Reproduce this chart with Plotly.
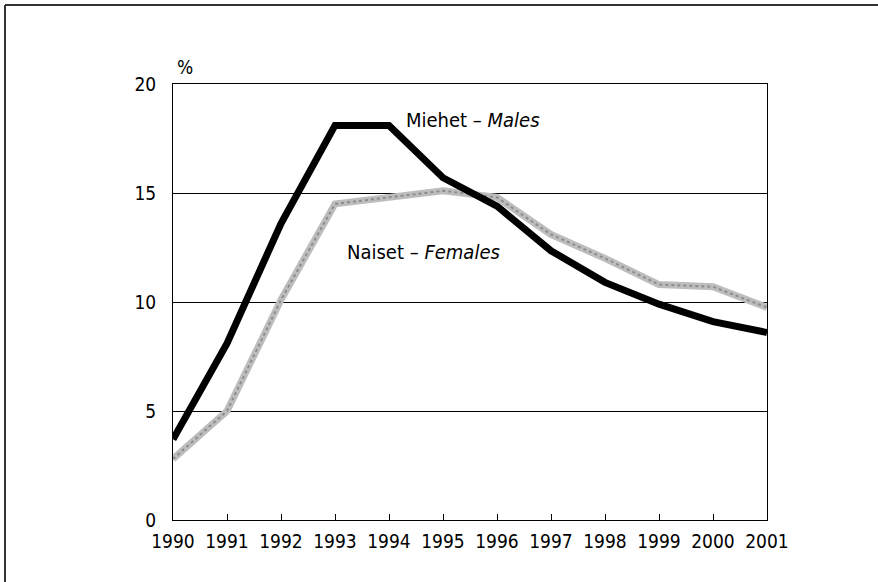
import plotly.graph_objects as go

years = [1990, 1991, 1992, 1993, 1994, 1995, 1996, 1997, 1998, 1999, 2000, 2001]
males = [3.7, 8.1, 13.6, 18.1, 18.1, 15.7, 14.4, 12.35, 10.9, 9.9, 9.1, 8.6]
females = [2.8, 5.0, 10.1, 14.5, 14.8, 15.1, 14.8, 13.1, 12.0, 10.8, 10.7, 9.75]
y_ticks = [0, 5, 10, 15, 20]

FONT = "Liberation Sans Narrow, DejaVu Sans Condensed, sans-serif"

W, H = 878, 582
L, R, T, B = 173, 111, 84, 62
pw, ph = W - L - R, H - T - B

def px_x(px):
    return (px - L) / pw

def px_y(py):
    return (H - B - py) / ph

fig = go.Figure()
fig.add_trace(go.Scatter(x=years, y=females, mode="lines",
                         line=dict(color="#bdbdbd", width=7), hoverinfo="skip"))
fig.add_trace(go.Scatter(x=years, y=females, mode="lines",
                         line=dict(color="#8c8c8c", width=2, dash="dot"), hoverinfo="skip"))
fig.add_trace(go.Scatter(x=years, y=males, mode="lines",
                         line=dict(color="#000000", width=7), hoverinfo="skip"))

fig.update_layout(
    width=W, height=H,
    margin=dict(l=L, r=R, t=T, b=B),
    paper_bgcolor="white", plot_bgcolor="white",
    showlegend=False,
    font=dict(family=FONT, size=19, color="black"),
    xaxis=dict(range=[1990, 2001], tickmode="array", tickvals=years,
               ticktext=[str(y) for y in years],
               ticks="inside", ticklen=6, tickcolor="black", tickwidth=1,
               showgrid=False, showline=True, linecolor="black", linewidth=1,
               mirror=True, zeroline=False, tickfont=dict(size=19),
               ticklabelstandoff=4),
    yaxis=dict(range=[0, 20], tickmode="array", tickvals=y_ticks,
               ticks="", showgrid=True, gridcolor="black", gridwidth=1,
               showline=True, linecolor="black", linewidth=1, mirror=True,
               zeroline=False, tickfont=dict(size=19), ticklabelstandoff=12),
    annotations=[
        dict(text="%", x=px_x(175), y=px_y(67), xref="paper", yref="paper",
             showarrow=False, xanchor="left", yanchor="middle", font=dict(size=19)),
        dict(text="Miehet \u2013 <i>Males</i>", x=1994.27, y=18.35, xref="x", yref="y",
             showarrow=False, xanchor="left", yanchor="middle", font=dict(size=20)),
        dict(text="Naiset \u2013 <i>Females</i>", x=1993.19, y=12.3, xref="x", yref="y",
             showarrow=False, xanchor="left", yanchor="middle", font=dict(size=20)),
    ],
    shapes=[
        dict(type="line", xref="paper", yref="paper", x0=px_x(5), x1=px_x(900),
             y0=px_y(5), y1=px_y(5), line=dict(color="#333", width=2)),
        dict(type="line", xref="paper", yref="paper", x0=px_x(5), x1=px_x(5),
             y0=px_y(5), y1=px_y(600), line=dict(color="#333", width=2)),
    ],
)

fig.write_html("out.html", config={"displayModeBar": False},
               post_script="document.body.style.margin='0px';document.body.style.padding='0px';")
